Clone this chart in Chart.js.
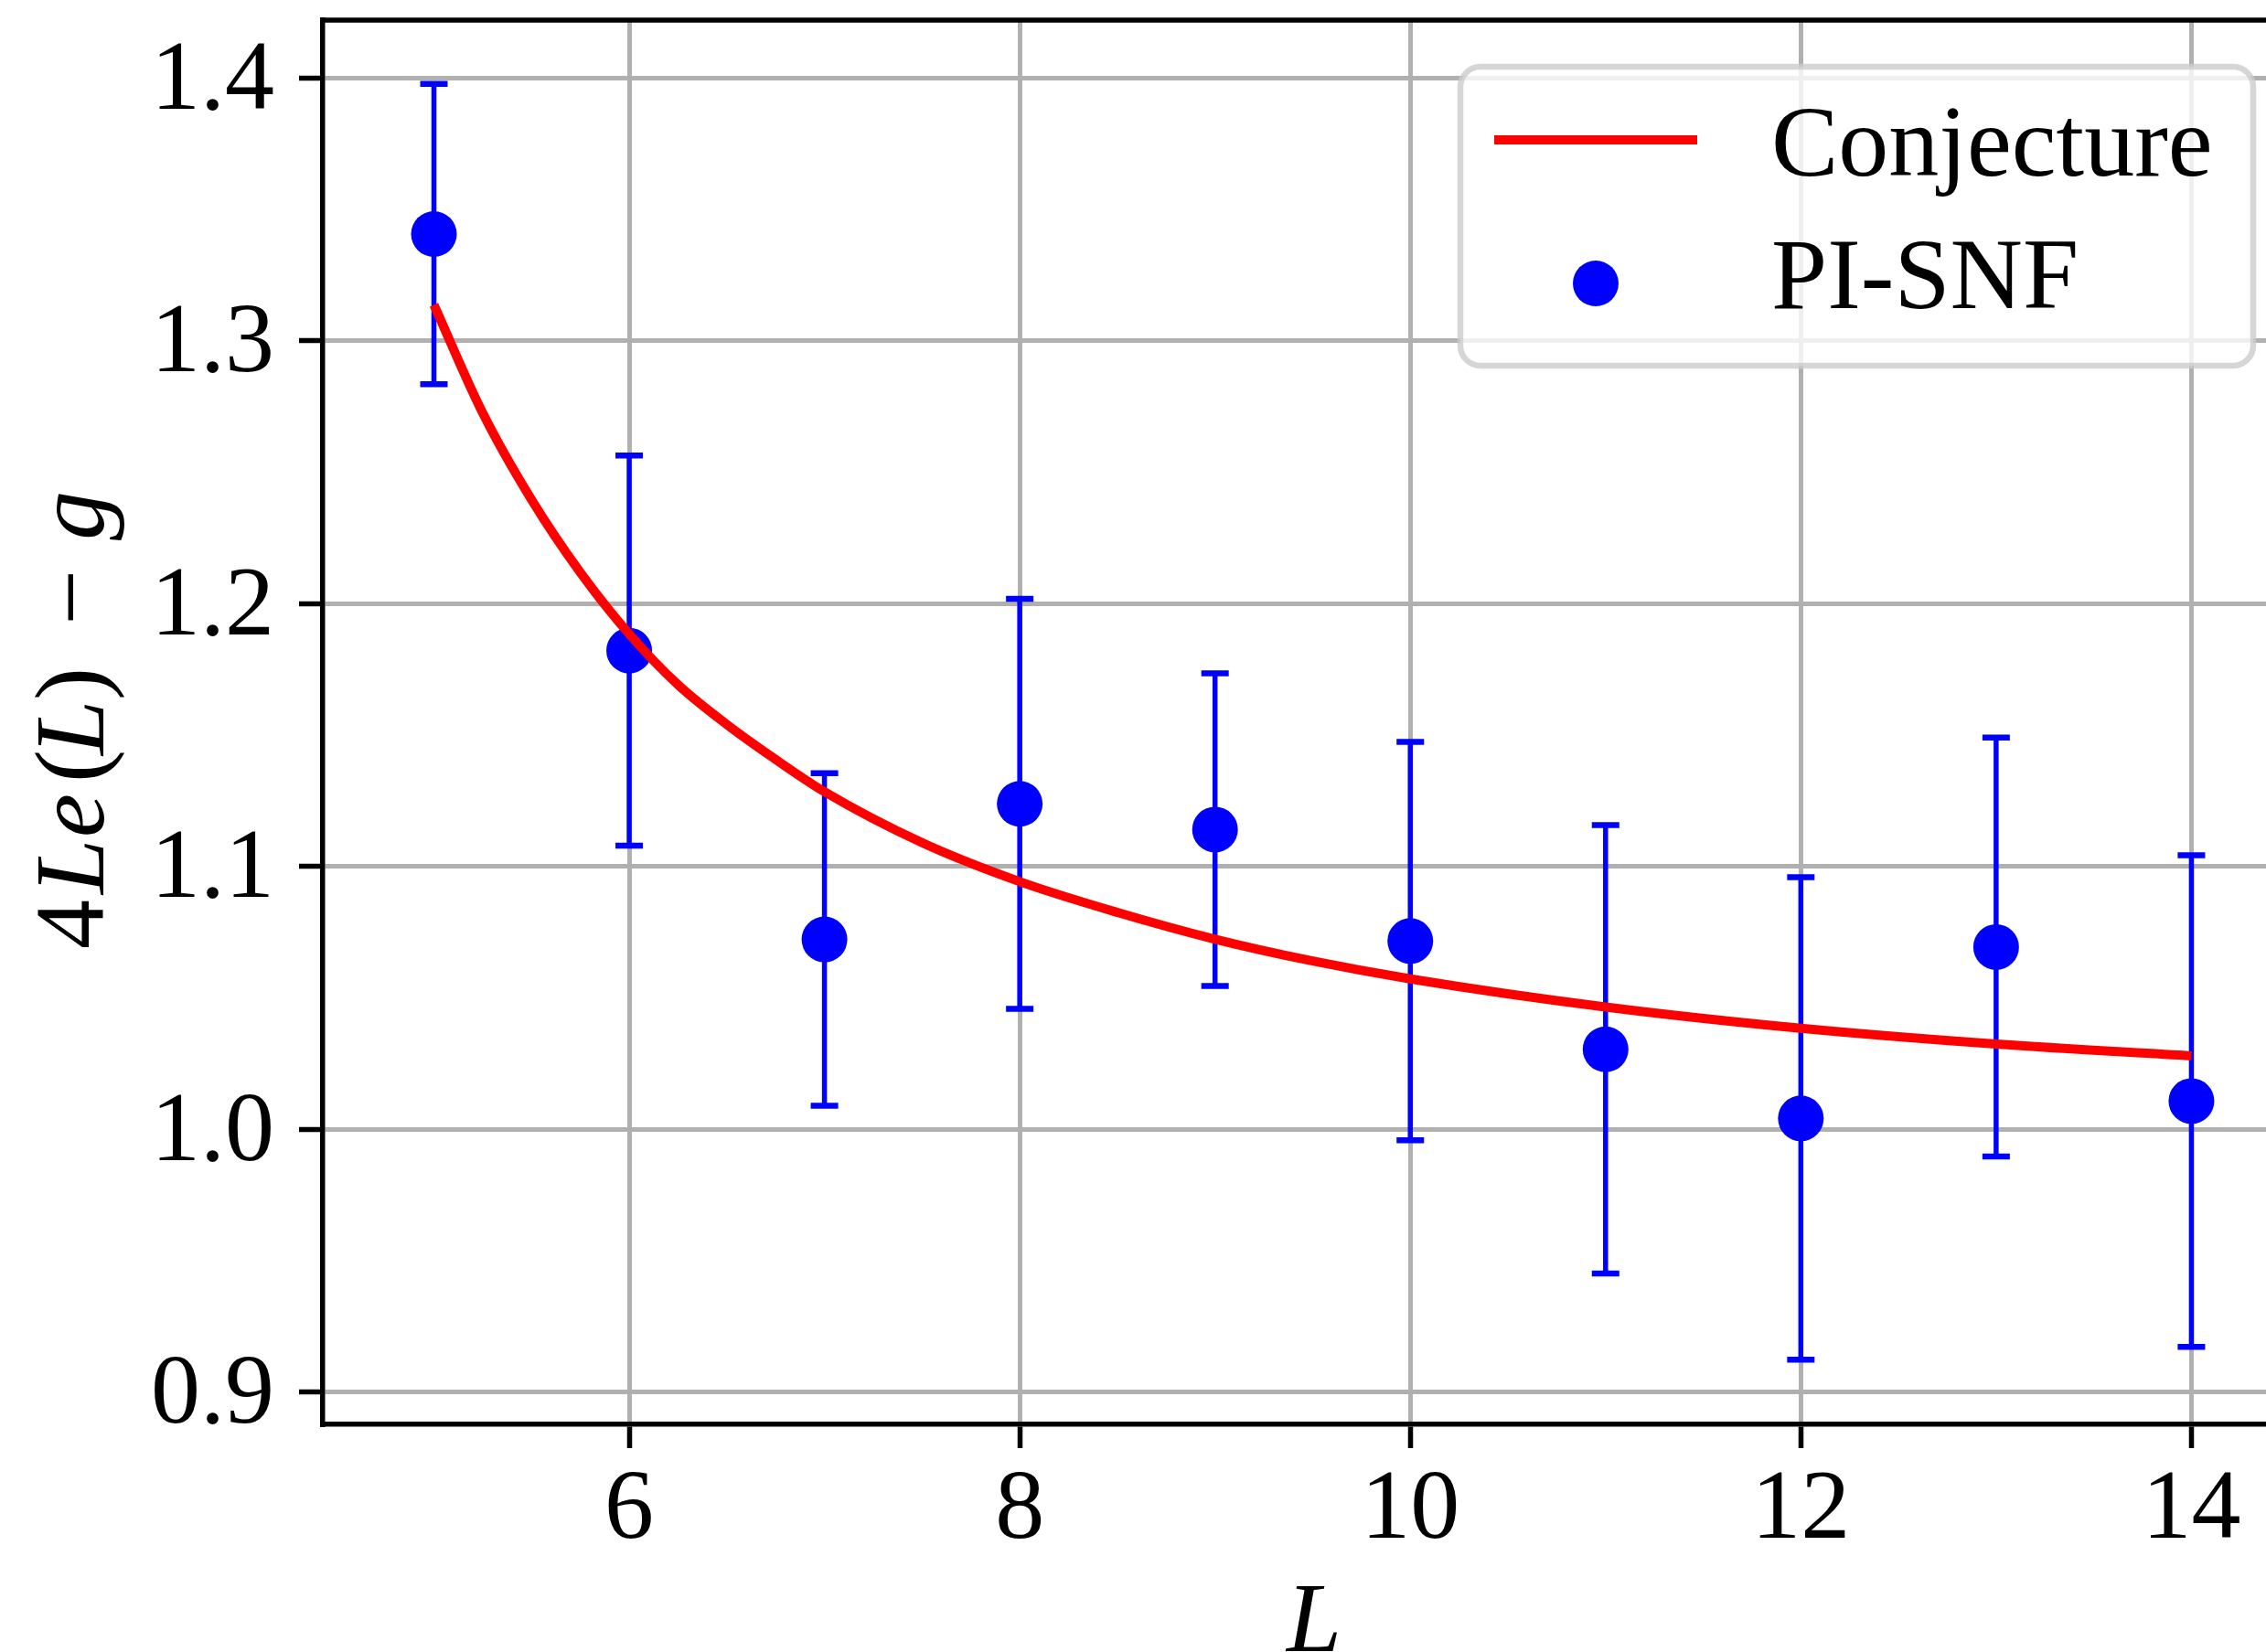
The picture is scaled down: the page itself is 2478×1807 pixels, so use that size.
<!DOCTYPE html>
<html><head><meta charset="utf-8">
<script src="https://cdn.jsdelivr.net/npm/chart.js@4.4.0/dist/chart.umd.min.js"></script>
<style>html,body{margin:0;padding:0;background:#fff;overflow:hidden}canvas{display:block}</style>
</head><body>
<canvas id="c" width="2478" height="1807" style="width:2478px;height:1807px"></canvas>
<script>
// ---- data ----
const sizeL = [5, 6, 7, 8, 9, 10, 11, 12, 13, 14];
const pisnfValues = [1.3406, 1.1821, 1.0722, 1.1238, 1.1140, 1.0716, 1.0304, 1.0041, 1.0693, 1.0107];
const pisnfErrors = [0.0571, 0.0742, 0.0633, 0.0780, 0.0595, 0.0758, 0.0853, 0.0918, 0.0797, 0.0935];
const conjL = [5, 5.25, 5.5, 5.75, 6, 6.25, 6.5, 6.75, 7, 7.5, 8, 8.5, 9, 9.5, 10, 11, 12, 13, 14];
const conjValues = [1.3137, 1.2725, 1.2395, 1.2118, 1.1884, 1.1691, 1.1540, 1.1407, 1.1284, 1.1090, 1.0942, 1.0825, 1.0723, 1.0640, 1.0572, 1.0465, 1.0384, 1.0324, 1.0279];
const xTickValues = [6, 8, 10, 12, 14];
const yTickValues = [0.9, 1.0, 1.1, 1.2, 1.3, 1.4];
const seriesNames = ['Conjecture', 'PI-SNF'];

// ---- styling ----
const FONT = "'Liberation Serif', 'DejaVu Serif', serif";
const FS = 108;
const BLUE = '#0000ff';
const RED = '#ff0000';
const SPINE_W = 5.5;

const errorBarPlugin = {
  id: 'errorBars',
  beforeDatasetsDraw(chart) {
    const ctx = chart.ctx, xs = chart.scales.x, ys = chart.scales.y;
    ctx.save();
    ctx.strokeStyle = BLUE;
    for (let i = 0; i < sizeL.length; i++) {
      const px = xs.getPixelForValue(sizeL[i]);
      const pTop = ys.getPixelForValue(pisnfValues[i] + pisnfErrors[i]);
      const pBot = ys.getPixelForValue(pisnfValues[i] - pisnfErrors[i]);
      ctx.lineWidth = 5.5;
      ctx.lineCap = 'butt';
      ctx.beginPath(); ctx.moveTo(px, pTop); ctx.lineTo(px, pBot); ctx.stroke();
      ctx.lineWidth = 6.5;
      ctx.beginPath();
      ctx.moveTo(px - 15, pTop); ctx.lineTo(px + 15, pTop);
      ctx.moveTo(px - 15, pBot); ctx.lineTo(px + 15, pBot);
      ctx.stroke();
    }
    ctx.restore();
  }
};

function roundRect(ctx, x, y, w, h, r) {
  ctx.beginPath();
  ctx.moveTo(x + r, y);
  ctx.lineTo(x + w - r, y); ctx.arcTo(x + w, y, x + w, y + r, r);
  ctx.lineTo(x + w, y + h - r); ctx.arcTo(x + w, y + h, x + w - r, y + h, r);
  ctx.lineTo(x + r, y + h); ctx.arcTo(x, y + h, x, y + h - r, r);
  ctx.lineTo(x, y + r); ctx.arcTo(x, y, x + r, y, r);
  ctx.closePath();
}

const framePlugin = {
  id: 'frame',
  afterDraw(chart) {
    const ctx = chart.ctx, a = chart.chartArea;
    ctx.save();
    // top spine
    ctx.strokeStyle = '#000'; ctx.lineWidth = SPINE_W;
    ctx.beginPath(); ctx.moveTo(a.left - SPINE_W / 2, a.top); ctx.lineTo(a.right, a.top); ctx.stroke();

    // legend
    roundRect(ctx, 1597, 73, 867, 327, 22);
    ctx.fillStyle = 'rgba(255,255,255,0.8)'; ctx.fill();
    ctx.strokeStyle = 'rgba(204,204,204,0.8)'; ctx.lineWidth = 6.5; ctx.stroke();
    ctx.strokeStyle = RED; ctx.lineWidth = 10; ctx.lineCap = 'butt';
    ctx.beginPath(); ctx.moveTo(1634, 153); ctx.lineTo(1856, 153); ctx.stroke();
    ctx.fillStyle = BLUE;
    ctx.beginPath(); ctx.arc(1745, 310, 25, 0, Math.PI * 2); ctx.fill();
    ctx.fillStyle = '#000';
    ctx.font = '110px ' + FONT;
    ctx.textAlign = 'left'; ctx.textBaseline = 'alphabetic';
    ctx.fillText(seriesNames[0], 1937, 192);
    ctx.fillText(seriesNames[1], 1937, 337);

    // x title
    ctx.font = 'italic ' + FS + 'px ' + FONT;
    ctx.textAlign = 'center';
    ctx.fillText('L', 1437, 1806);

    // y title: 4Le(L) − g
    ctx.translate(113, 1038);
    ctx.rotate(-Math.PI / 2);
    ctx.textAlign = 'left';
    const up = FS + 'px ' + FONT, it = 'italic ' + FS + 'px ' + FONT;
    const pieces = [['4', up, 0], ['L', it, 60], ['e', it, 122], ['(', up, 182], ['L', it, 212], [')', up, 272], ['\u2212', up, 354], ['g', it, 447]];
    for (const [t, f, off] of pieces) { ctx.font = f; ctx.fillText(t, off, 0); }
    ctx.restore();
  }
};

const ctx = document.getElementById('c').getContext('2d');
new Chart(ctx, {
  data: {
    datasets: [
      {
        type: 'line', label: seriesNames[0],
        data: conjL.map((x, i) => ({ x, y: conjValues[i] })),
        borderColor: RED, borderWidth: 10, pointRadius: 0, fill: false,
        cubicInterpolationMode: 'monotone', borderCapStyle: 'butt'
      },
      {
        type: 'scatter', label: seriesNames[1],
        data: sizeL.map((x, i) => ({ x, y: pisnfValues[i] })),
        backgroundColor: BLUE, borderWidth: 0, pointRadius: 25, pointHoverRadius: 25, showLine: false
      }
    ]
  },
  options: {
    responsive: false, animation: false, devicePixelRatio: 1, events: [],
    layout: { autoPadding: false, padding: { top: 22, left: 0, right: 0, bottom: 0 } },
    plugins: { legend: { display: false }, tooltip: { enabled: false } },
    scales: {
      x: {
        type: 'linear', min: 4.431, max: 14.382,
        afterBuildTicks: s => { s.ticks = xTickValues.map(v => ({ value: v })); },
        afterFit: s => { s.height = 249; s.paddingLeft = 0; s.paddingRight = 0; s.paddingTop = 0; s.paddingBottom = 0; },
        ticks: { callback: v => String(v), color: '#000', font: { family: FONT, size: FS, lineHeight: 1 }, padding: 16, maxRotation: 0, autoSkip: false },
        grid: { color: '#b0b0b0', lineWidth: 5, tickColor: '#000', tickWidth: 5.5, tickLength: 26 },
        border: { display: true, color: '#000', width: SPINE_W }
      },
      y: {
        type: 'linear', min: 0.8877, max: 1.4220,
        afterBuildTicks: s => { s.ticks = yTickValues.map(v => ({ value: v })); },
        afterFit: s => { s.width = 353; s.paddingLeft = 0; s.paddingRight = 0; s.paddingTop = 0; s.paddingBottom = 0; },
        ticks: { callback: v => v.toFixed(1), color: '#000', font: { family: FONT, size: FS, lineHeight: 1 }, padding: 27, labelOffset: 5, autoSkip: false },
        grid: { color: '#b0b0b0', lineWidth: 5, tickColor: '#000', tickWidth: 5.5, tickLength: 26 },
        border: { display: true, color: '#000', width: SPINE_W }
      }
    }
  },
  plugins: [errorBarPlugin, framePlugin]
});
</script>
</body></html>
